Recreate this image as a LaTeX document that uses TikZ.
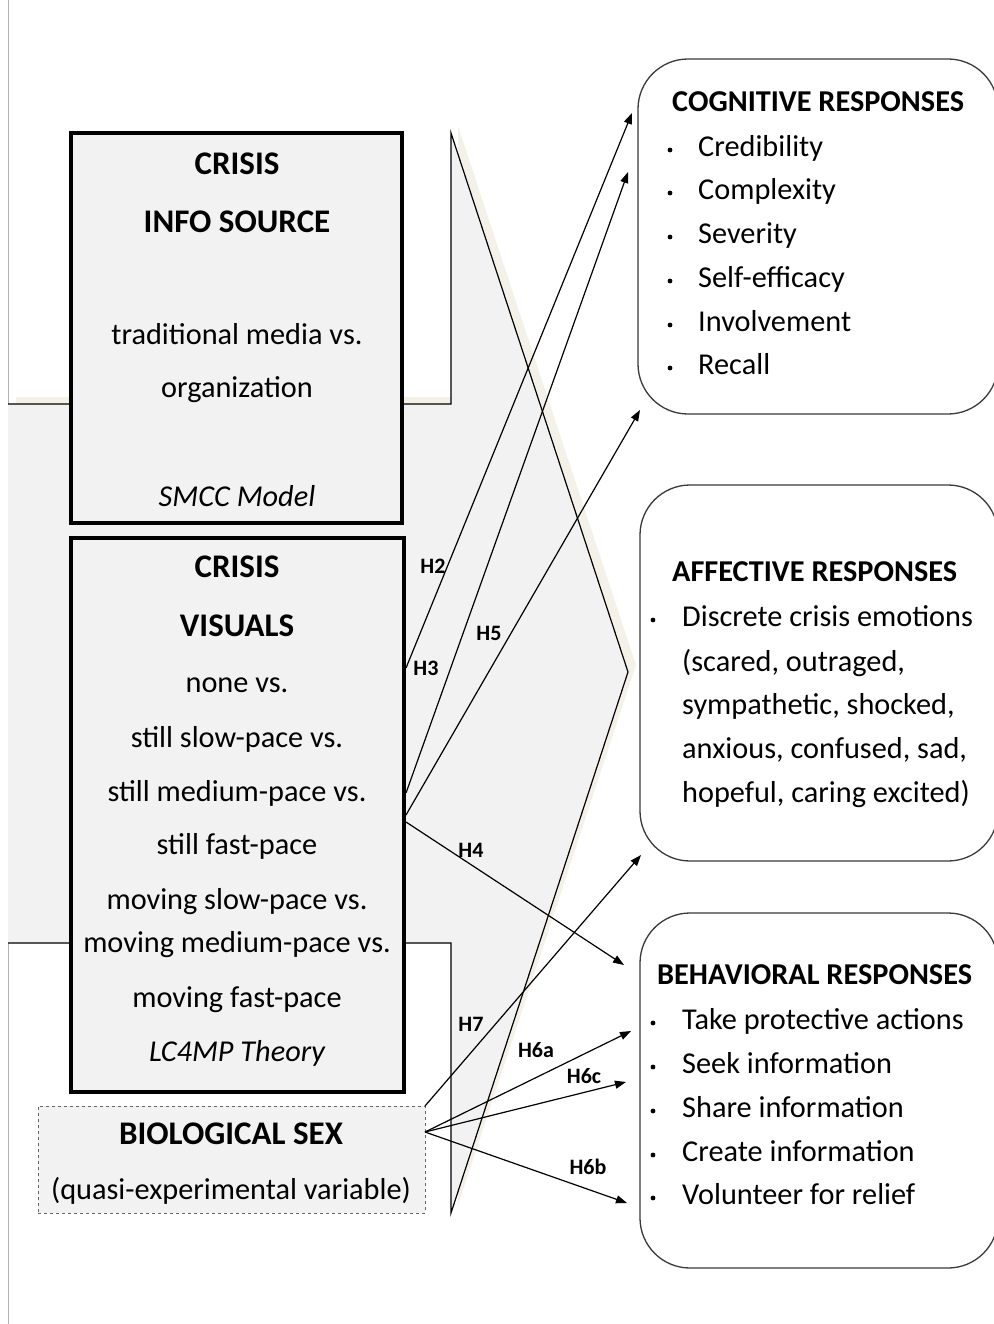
\documentclass[tikz,border=0pt]{standalone}
\usepackage{fontspec}
\setmainfont{Carlito}
\usetikzlibrary{arrows.meta}
\definecolor{boxgrey}{HTML}{F2F2F2}
\definecolor{shadowc}{HTML}{F4F2E8}
\definecolor{edgegrey}{HTML}{3A3A3A}
\begin{document}
\begin{tikzpicture}[x=1pt,y=-1pt,
  txt/.style={font=\fontsize{30.3}{36}\selectfont, inner sep=0pt, anchor=mid, yshift=-7pt},
  ttl/.style={font=\fontsize{33}{40}\selectfont\bfseries, inner sep=0pt, anchor=mid, yshift=-7pt},
  itl/.style={font=\fontsize{30.3}{36}\selectfont\itshape, inner sep=0pt, anchor=mid, yshift=-7pt},
  ltxt/.style={font=\fontsize{30.3}{36}\selectfont, inner sep=0pt, anchor=mid west, yshift=-7pt},
  lttl/.style={font=\fontsize{30.3}{36}\selectfont\bfseries, inner sep=0pt, anchor=mid west, yshift=-7pt},
  hlab/.style={font=\fontsize{22}{26}\selectfont\bfseries, inner sep=0pt, anchor=mid, yshift=-4pt},
  arr/.style={line width=1.2pt, black, -{Triangle[length=11pt,width=8pt]}},
  thickbox/.style={draw=black, line width=4.5pt, fill=boxgrey, inner sep=0pt},
  dashbox/.style={draw=gray!80!black, dashed, line width=1pt, fill=boxgrey, inner sep=0pt},
  rbox/.style={draw=edgegrey, line width=1.3pt, rounded corners=50pt, fill=white, inner sep=0pt},
  bul/.style={fill=black},
]
\useasboundingbox (0,0) rectangle (993,1324);
\fill[white] (0,0) rectangle (993,1324);
\draw[gray!60, line width=1pt] (8,0) -- (8,1324);

% background block arrow (shadow + shape)
\fill[shadowc] (16,397) -- (458,397) -- (458,126) -- (636,665) -- (458,1205) -- (458,935) -- (16,935) -- cycle;
\filldraw[fill=boxgrey, draw=black, line width=1.2pt] (8,404) -- (451,404) -- (451,133) -- (628,672) -- (451,1213) -- (451,943) -- (8,943);
\fill[boxgrey] (8.5,404.6) rectangle (450,942.4);

% left boxes
\node[thickbox, minimum width=331pt, minimum height=390pt] (src) at (236.5,328) {};
\node[thickbox, minimum width=333pt, minimum height=554pt] (vis) at (237.5,815) {};
\node[dashbox, minimum width=387pt, minimum height=107pt] (sex) at (231.5,1159.5) {};

% right boxes
\node[rbox, minimum width=360pt, minimum height=355pt] (cog) at (818,236.5) {};
\node[rbox, minimum width=358pt, minimum height=376pt] (aff) at (819,673) {};
\node[rbox, minimum width=358pt, minimum height=355pt] (beh) at (819,1090.5) {};

% connector end points
\coordinate (h2s) at (406,668);  \coordinate (h2e) at (632,113);
\coordinate (h3s) at (406,793);  \coordinate (h3e) at (628,172);
\coordinate (h5s) at (406,815);  \coordinate (h5e) at (640,410);
\coordinate (h4s) at (406,822);  \coordinate (h4e) at (624,965);
\coordinate (h7s) at (425,1106); \coordinate (h7e) at (641,855);
\coordinate (h6s) at (425,1132);
\coordinate (h6ae) at (631,1031);
\coordinate (h6ce) at (626,1082);
\coordinate (h6be) at (627,1203);

\draw[arr] (h2s) -- (h2e);
\draw[arr] (h3s) -- (h3e);
\draw[arr] (h5s) -- (h5e);
\draw[arr] (h4s) -- (h4e);
\draw[arr] (h7s) -- (h7e);
\draw[arr] (h6s) -- (h6ae);
\draw[arr] (h6s) -- (h6ce);
\draw[arr] (h6s) -- (h6be);

% hypothesis labels
\node[hlab] (lh2) at (433,567) {H2};
\node[hlab] (lh3) at (426,669) {H3};
\node[hlab] (lh5) at (489,634) {H5};
\node[hlab] (lh4) at (471,851) {H4};
\node[hlab] (lh7) at (471,1025) {H7};
\node[hlab] (lh6a) at (536,1051) {H6a};
\node[hlab] (lh6c) at (584,1077) {H6c};
\node[hlab] (lh6b) at (588,1168) {H6b};

% source box text
\node[ttl] (s1) at (237,165) {CRISIS};
\node[ttl] (s2) at (237,223) {INFO SOURCE};
\node[txt] (s3) at (237,335) {traditional media vs.};
\node[txt] (s4) at (237,388) {organization};
\node[itl] (s5) at (237,497) {SMCC Model};

% visuals box text
\node[ttl] (v1) at (237,568) {CRISIS};
\node[ttl] (v2) at (237,627) {VISUALS};
\node[txt] (v3) at (237,683) {none vs.};
\node[txt] (v4) at (237,738) {still slow-pace vs.};
\node[txt] (v5) at (237,792) {still medium-pace vs.};
\node[txt] (v6) at (237,845) {still fast-pace};
\node[txt] (v7) at (237,900) {moving slow-pace vs.};
\node[txt] (v8) at (237,943) {moving medium-pace vs.};
\node[txt] (v9) at (237,998) {moving fast-pace};
\node[itl] (v10) at (237,1052) {LC4MP Theory};

% sex box text
\node[ttl] (x1) at (231,1135) {BIOLOGICAL SEX};
\node[txt] (x2) at (231,1190) {(quasi-experimental variable)};

% cognitive
\node[lttl] (c0) at (672,102) {COGNITIVE RESPONSES};
\foreach \t/\yy [count=\i] in {Credibility/147, Complexity/190, Severity/234, Self-efficacy/278, Involvement/322, Recall/365}{
  \node[ltxt] (c\i) at (698,\yy) {\t};
  \fill[bul] (670,\yy+3) circle (2.4pt);
}

% affective
\node[lttl] (a0) at (672,572) {AFFECTIVE RESPONSES};
\fill[bul] (653,620) circle (2.4pt);
\node[ltxt] (a1) at (682,617) {Discrete crisis emotions};
\node[ltxt] (a2) at (682,662) {(scared, outraged,};
\node[ltxt] (a3) at (682,705) {sympathetic, shocked,};
\node[ltxt] (a4) at (682,749) {anxious, confused, sad,};
\node[ltxt] (a5) at (682,793) {hopeful, caring excited)};

% behavioral
\node[lttl] (b0) at (657,975) {BEHAVIORAL RESPONSES};
\foreach \t/\yy [count=\i] in {Take protective actions/1020, Seek information/1064, Share information/1108, Create information/1152, Volunteer for relief/1195}{
  \node[ltxt] (b\i) at (682,\yy) {\t};
  \fill[bul] (653,\yy+3) circle (2.4pt);
}
\end{tikzpicture}
\end{document}
